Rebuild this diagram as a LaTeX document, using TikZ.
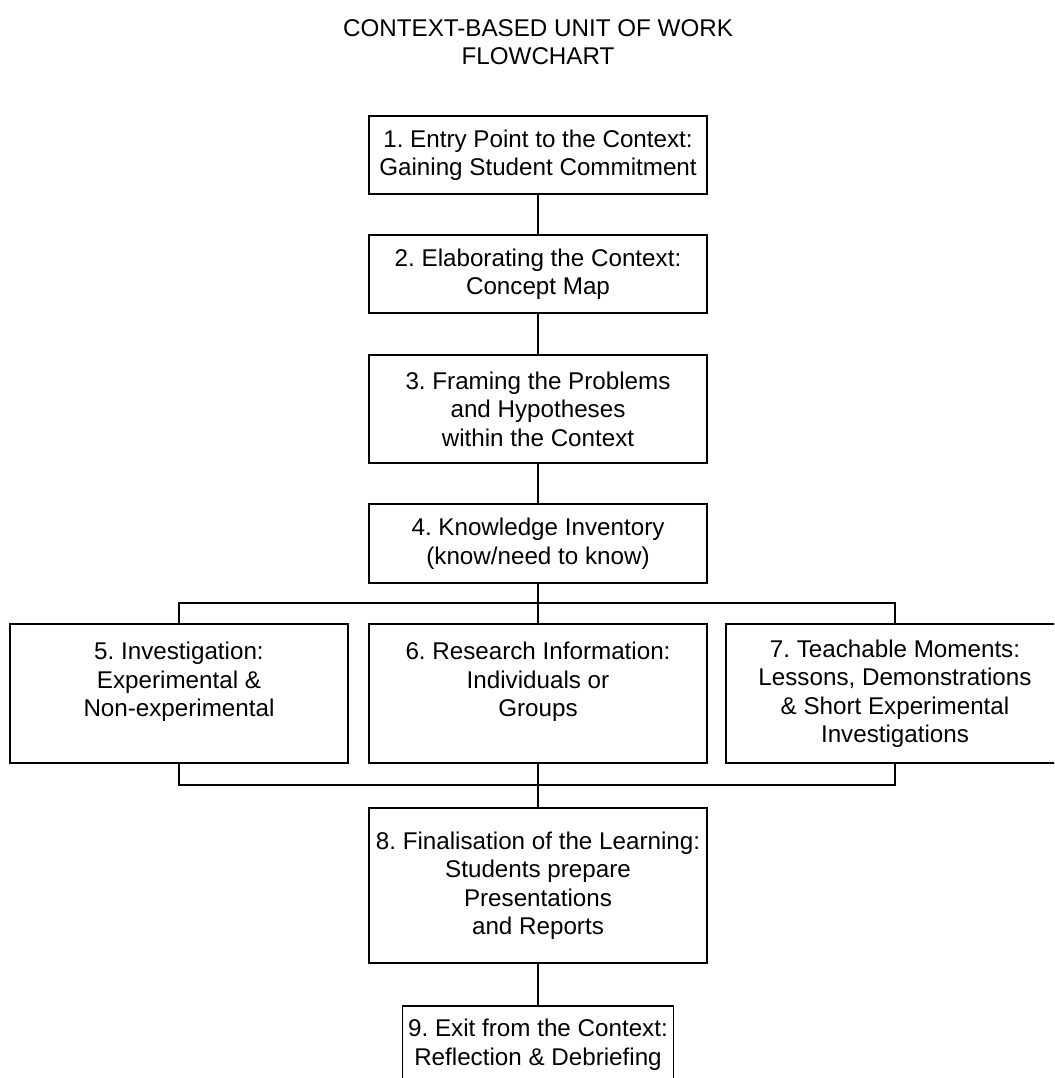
\documentclass[tikz,border=0pt]{standalone}
\usepackage{fontspec}
\setmainfont{Liberation Sans}
\begin{document}
\frenchspacing
\begin{tikzpicture}[x=1pt,y=-1pt,
  every node/.style={font=\fontsize{24.2}{28.5}\selectfont\frenchspacing, align=center, inner sep=0pt},
  box/.style={draw, line width=1.6pt, minimum width=338pt},
  conn/.style={line width=1.6pt}]
\useasboundingbox (0,0) rectangle (1054,1078);
\clip (0,0) rectangle (1054,1078);
\node (title) at (538,42) {CONTEXT-BASED UNIT OF WORK\\FLOWCHART};
\node[box, minimum height=78pt] (b1) at (538,155) {1. Entry Point to the Context:\\Gaining Student Commitment};
\node[box, minimum height=78pt] (b2) at (538,274) {2. Elaborating the Context:\\Concept Map};
\node[box, minimum height=108pt] (b3) at (538,409) {3. Framing the Problems\\and Hypotheses\\within the Context};
\node[box, minimum height=79pt] (b4) at (538,543.5) {4. Knowledge Inventory\\(know/need to know)};
\node[box, minimum height=139pt] (b5) at (179,693.5) {5. Investigation:\\Experimental \&\\Non-experimental\\\mbox{}};
\node[box, minimum height=139pt] (b6) at (538,693.5) {6. Research Information:\\Individuals or\\Groups\\\mbox{}};
\node[box, minimum height=139pt] (b7) at (895,693.5) {7. Teachable Moments:\\Lessons, Demonstrations\\\& Short Experimental\\Investigations};
\node[box, minimum height=155pt] (b8) at (538,885.5) {8. Finalisation of the Learning:\\Students prepare\\Presentations\\and Reports};
\node[box, minimum width=271pt, minimum height=77pt] (b9) at (538,1044.5) {9. Exit from the Context:\\Reflection \& Debriefing};
\coordinate (tl) at (179,603);
\coordinate (tr) at (895,603);
\coordinate (bl) at (179,785);
\coordinate (br) at (895,785);
\draw[conn] (b1.south) -- (b2.north);
\draw[conn] (b2.south) -- (b3.north);
\draw[conn] (b3.south) -- (b4.north);
\draw[conn] (b4.south) -- (b4.south |- tl);
\draw[conn] (b5.north) -- (tl) -- (tr) -- (b7.north);
\draw[conn] (b6.north) -- (b6.north |- tl);
\draw[conn] (b5.south) -- (bl) -- (br) -- (b7.south);
\draw[conn] (b6.south) -- (b8.north);
\draw[conn] (b8.south) -- (b9.north);
\end{tikzpicture}
\end{document}
